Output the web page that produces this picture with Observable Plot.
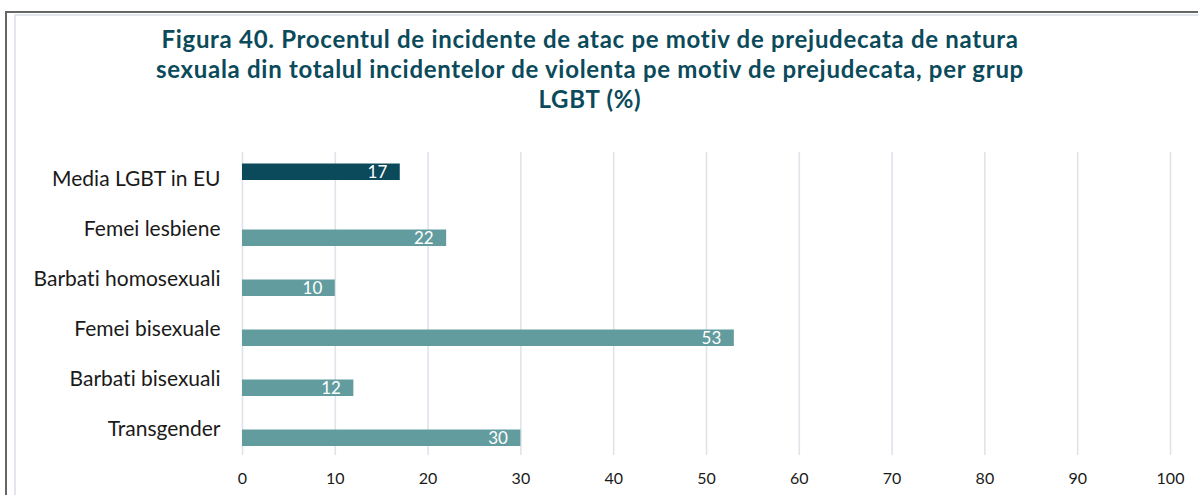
<!DOCTYPE html>
<html><head><meta charset="utf-8">
<script src="https://cdn.jsdelivr.net/npm/d3@7"></script>
<script src="https://cdn.jsdelivr.net/npm/@observablehq/plot@0.6"></script>
<style>
body{margin:0;background:#fff;width:1198px;height:495px;overflow:hidden;position:relative;font-family:Lato,sans-serif;font-variant-ligatures:none}
#outer{position:absolute;left:5px;top:11px;width:1400px;height:700px;border-top:2px solid #666;border-left:2px solid #666}
#inner{position:absolute;left:14px;top:14px;width:1400px;height:700px;border-top:2px solid #e2e6ec;border-left:2px solid #e2e6ec}
#title{position:absolute;left:0;width:1180px;top:24px;text-align:center;font-weight:700;font-size:24px;letter-spacing:0.7px;line-height:30px;color:#0b4a5a}
#chart{position:absolute;left:0;top:130px}
#chart svg text{font-variant-ligatures:none}
</style></head><body>
<div id="outer"></div><div id="inner"></div>
<div id="title">Figura 40. Procentul de incidente de atac pe motiv de prejudecata de natura<br>sexuala din totalul incidentelor de violenta pe motiv de prejudecata, per grup<br>LGBT (%)</div>
<div id="chart"></div>
<script>
const categories = ["Media LGBT in EU", "Femei lesbiene", "Barbati homosexuali", "Femei bisexuale", "Barbati bisexuali", "Transgender"];
const values = [17, 22, 10, 53, 12, 30];
const series = ["Media LGBT in EU", "Grup LGBT", "Grup LGBT", "Grup LGBT", "Grup LGBT", "Grup LGBT"];
const xTicks = [0, 10, 20, 30, 40, 50, 60, 70, 80, 90, 100];

const data = categories.map((c, i) => ({category: c, value: values[i], series: series[i]}));
const avg = data.filter(d => d.series === "Media LGBT in EU");
const groups = data.filter(d => d.series !== "Media LGBT in EU");

const chart = Plot.plot({
  width: 1198,
  height: 365,
  marginLeft: 242,
  marginRight: 28,
  marginTop: 22,
  marginBottom: 40,
  style: {fontFamily: "Lato, sans-serif", fontSize: "16px", color: "#1a1a1a", background: "transparent"},
  x: {domain: [0, 100]},
  y: {domain: categories, padding: 0},
  marks: [
    Plot.gridX(xTicks, {stroke: "#dfe3ea", strokeOpacity: 1, strokeWidth: 1.6}),
    Plot.axisX({ticks: xTicks, tickSize: 0, tickPadding: 17, fontSize: 16, label: null}),
    Plot.axisY({tickSize: 0, tickPadding: 22, fontSize: 21, label: null}),
    Plot.barX(avg, {x: "value", y: "category", fill: "#0b4a5a", insetTop: 9.5, insetBottom: 24}),
    Plot.barX(groups, {x: "value", y: "category", fill: "#639c9f", insetTop: 25.5, insetBottom: 8}),
    Plot.text(avg, {x: "value", y: "category", text: d => String(d.value), textAnchor: "end", dx: -13, dy: -7.25, fill: "white", fontSize: 17}),
    Plot.text(groups, {x: "value", y: "category", text: d => String(d.value), textAnchor: "end", dx: -13, dy: 8.75, fill: "white", fontSize: 17})
  ]
});
document.getElementById("chart").appendChild(chart);
</script>
</body></html>
